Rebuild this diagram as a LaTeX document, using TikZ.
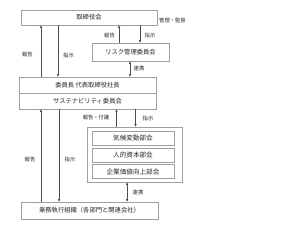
\documentclass[tikz,border=0pt]{standalone}
\usepackage{fontspec}
\setmainfont{Noto Sans CJK JP}
\usetikzlibrary{arrows.meta}
\begin{document}
\begin{tikzpicture}[x=1pt,y=-1pt,
  box/.style={draw=gray!75,line width=0.7pt,fill=white,inner sep=0pt,text=black!85,font=\fontsize{6.3}{7}\selectfont},
  subbox/.style={box,font=\fontsize{6.6}{7}\selectfont},
  lbl/.style={inner sep=0pt,text=black!85,font=\fontsize{5.3}{6}\selectfont},
  arr/.style={draw=gray!60!black,line width=0.6pt,-{Triangle[length=2.6pt,width=2.2pt]}},
  darr/.style={draw=gray!60!black,line width=0.6pt,{Triangle[length=2.6pt,width=2.2pt]}-{Triangle[length=2.6pt,width=2.2pt]}}]
\useasboundingbox (0,0) rectangle (300,228);
\fill[white] (0,0) rectangle (300,228);
% boxes
\node[box,minimum width=136pt,minimum height=15pt] (board) at (89,17.5) {取締役会};
\node[lbl,anchor=west] (kanri) at (159,20) {管理・監督};
\node[box,minimum width=77pt,minimum height=18pt] (risk) at (130.5,52) {リスク管理委員会};
\node[box,minimum width=137pt,minimum height=16pt] (commA) at (87.5,85) {委員長\ 代表取締役社長};
\node[box,minimum width=137pt,minimum height=16pt] (commB) at (87.5,101) {サステナビリティ委員会};
\node[box,minimum width=95pt,minimum height=55pt] (outer) at (134.5,154.5) {};
\node[subbox,minimum width=82pt,minimum height=14pt] (sub1) at (133,138) {気候変動部会};
\node[subbox,minimum width=82pt,minimum height=14pt] (sub2) at (133,155) {人的資本部会};
\node[subbox,minimum width=82pt,minimum height=14pt] (sub3) at (133,171.5) {企業価値向上部会};
\node[box,minimum width=137pt,minimum height=17pt] (exec) at (89.5,210.5) {業務執行組織（各部門と関連会社）};
% board <-> committee
\draw[arr] (commA.north -| 41,0) -- (board.south -| 41,0);
\draw[arr] (board.south -| 58,0) -- (commA.north -| 58,0);
\node[lbl] (l1) at (27.5,55) {報告};
\node[lbl] (l2) at (68.5,55) {指示};
% board <-> risk
\draw[arr] (risk.north -| 119,0) -- (board.south -| 119,0);
\draw[arr] (board.south -| 140,0) -- (risk.north -| 140,0);
\node[lbl] (l3) at (109.5,35.5) {報告};
\node[lbl] (l4) at (150,35.5) {指示};
% risk <-> committee
\draw[darr] (risk.south -| 130,0) -- (commA.north -| 130,0);
\node[lbl] (l5) at (139,68.5) {連携};
% committee <-> exec
\draw[arr] (exec.north -| 41,0) -- (commB.south -| 41,0);
\draw[arr] (commB.south -| 59,0) -- (exec.north -| 59,0);
\node[lbl] (l6) at (30,159.5) {報告};
\node[lbl] (l7) at (70,159.5) {指示};
% committee <-> subcommittees
\draw[arr] (outer.north -| 116.5,0) -- (commB.south -| 116.5,0);
\draw[arr] (commB.south -| 135.5,0) -- (outer.north -| 135.5,0);
\node[lbl] (l8) at (96,118) {報告・付議};
\node[lbl] (l9) at (148,118) {指示};
% subcommittees <-> exec
\draw[darr] (outer.south -| 127,0) -- (exec.north -| 127,0);
\node[lbl] (l10) at (138,192.5) {連携};
\end{tikzpicture}
\end{document}
